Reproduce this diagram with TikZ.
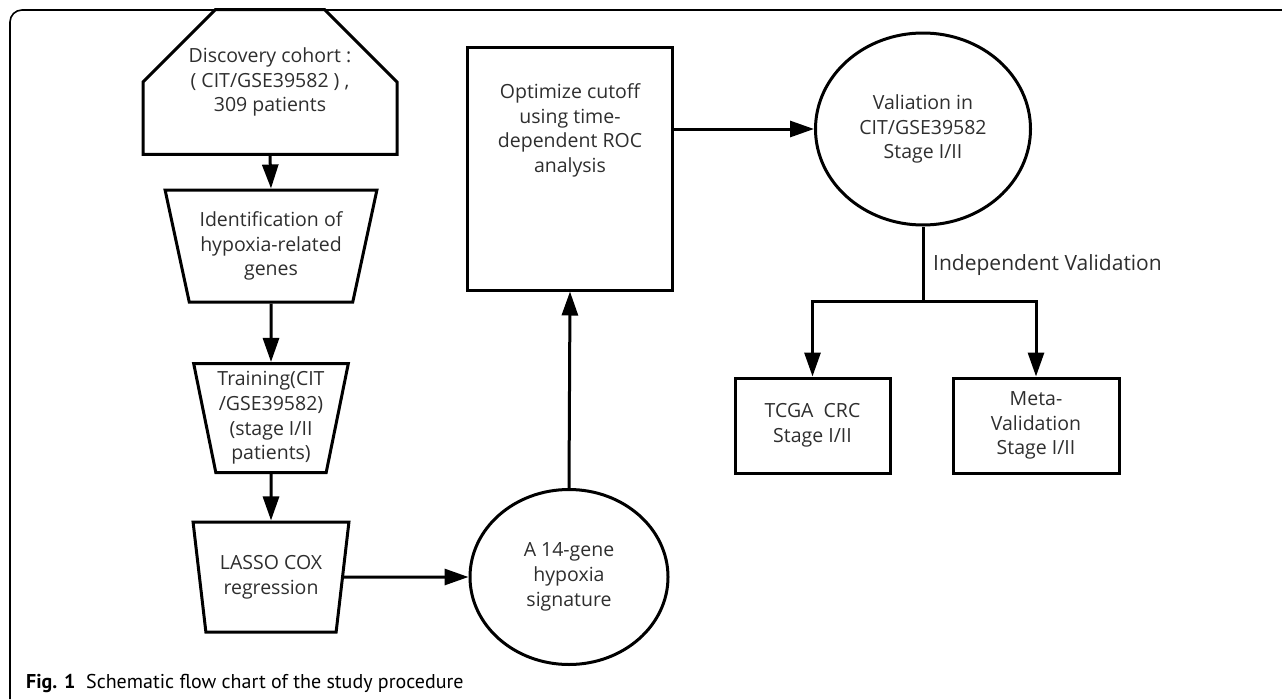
\documentclass[tikz,border=0pt]{standalone}
\usepackage{fontspec}
\setmainfont{Open Sans}
\newfontfamily\capfont{PT Sans}
\usetikzlibrary{arrows.meta,shapes.geometric,shapes.misc}
\definecolor{txt}{HTML}{2E2E2E}
\tikzset{
  tfont/.style={font=\fontsize{19.5}{24.7}\selectfont},
  shp/.style={draw=black, line width=3pt, text=txt, align=center, inner sep=0pt, tfont},
  trap/.style={shp, trapezium, trapezium stretches=true},
  boxx/.style={shp, rectangle},
  ell/.style={shp, ellipse},
  arr/.style={line width=3pt, -{Triangle[length=24pt,width=16pt]}},
  lin/.style={line width=3pt},
  lbl/.style={text=txt, inner sep=0pt, tfont}
}
\begin{document}
\begin{tikzpicture}[x=1pt,y=-1pt]
\useasboundingbox (0,0) rectangle (1282,699);
% frame
\draw[line width=1.6pt] (1282,10) -- (22,10) arc[start angle=270,end angle=180,radius=12] -- (10,699);
% left column
\node[shp, chamfered rectangle, chamfered rectangle corners={north west,north east},
  chamfered rectangle xsep=42pt, chamfered rectangle ysep=38pt,
  minimum width=254pt, minimum height=108pt] (disc) at (270,82)
  {Discovery cohort :\\( CIT/GSE39582 ) ,\\309 patients};
\node[trap, shape border rotate=180, trapezium angle=73, minimum width=212pt, minimum height=112pt]
  (ident) at (271,246) {Identification of\\hypoxia-related\\genes};
\node[trap, shape border rotate=180, trapezium angle=77, minimum width=155pt, minimum height=109pt]
  (train) at (271,418) {Training(CIT\\/GSE39582)\\(stage I/II\\patients)};
\node[trap, shape border rotate=180, trapezium angle=77, minimum width=156pt, minimum height=110pt]
  (lasso) at (271,577) {LASSO COX\\regression};
% middle
\node[ell, minimum width=198pt, minimum height=175pt] (sig) at (569,577)
  {A 14-gene\\hypoxia\\signature};
\node[boxx, minimum width=205pt, minimum height=243pt,
  label={[lbl, align=center, yshift=38pt]center:{Optimize cutoff\\using time-\\dependent ROC\\analysis}}]
  (opt) at (570,168.5) {};
% right
\node[ell, minimum width=215pt, minimum height=192pt] (val) at (923,129)
  {Valiation in\\CIT/GSE39582\\Stage I/II};
\node[boxx, minimum width=155pt, minimum height=95pt] (tcga) at (812.5,425.5)
  {TCGA\ \ CRC\\Stage I/II};
\node[boxx, minimum width=166pt, minimum height=95pt] (meta) at (1036,425.5)
  {Meta-\\Validation\\Stage I/II};
\coordinate (j) at (923,301);
\coordinate (jl) at (tcga.north |- j);
\coordinate (jr) at (meta.north |- j);
\node[lbl, anchor=west, font=\fontsize{21}{25}\selectfont] (indep) at (933,265) {Independent Validation};
% connectors
\draw[arr] (disc.south) -- (ident.north);
\draw[arr] (ident.south) -- (train.north);
\draw[arr] (train.south) -- (lasso.north);
\draw[arr] (lasso.east) -- (sig.west);
\draw[arr] (sig.north) -- (opt.south);
\draw[arr] (opt.east |- val.west) -- (val.west);
\draw[lin] (val.south) -- (j);
\draw[lin, line cap=rect] (jl) -- (jr);
\draw[arr] (jl) -- (tcga.north);
\draw[arr] (jr) -- (meta.north);
% caption
\node[anchor=west, inner sep=0pt, font=\capfont\fontsize{20}{24}\selectfont] (cap) at (26,683)
  {\textbf{Fig. 1}\ \ Schematic flow chart of the study procedure};
\end{tikzpicture}
\end{document}
